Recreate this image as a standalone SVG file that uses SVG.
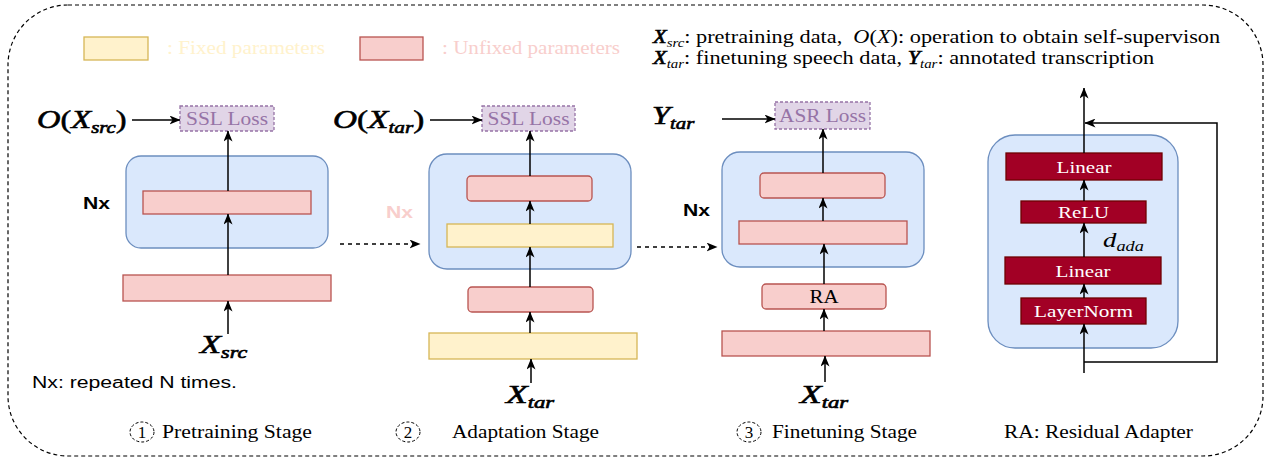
<svg xmlns="http://www.w3.org/2000/svg" width="1271" height="462" viewBox="0 0 1271 462">
<defs>
<marker id="ah" markerWidth="11" markerHeight="9" refX="10.5" refY="4.5" orient="auto" markerUnits="userSpaceOnUse"><path d="M0,0 L11,4.5 L0,9 L3,4.5 Z" fill="#000"/></marker>
<style>
.blue{fill:#dae8fc;stroke:#6c8ebf;stroke-width:1.3}
.pink{fill:#f8cecc;stroke:#b85450;stroke-width:1.3}
.yel{fill:#fff2cc;stroke:#d6b656;stroke-width:1.3}
.loss{fill:#e1d5e7;stroke:#9673a6;stroke-width:1.3;stroke-dasharray:3 2}
.dark{fill:#a20025;stroke:#6f0000;stroke-width:1.3}
.serif{font-family:"Liberation Serif","Times New Roman",serif}
.sans{font-family:"Liberation Sans",Arial,sans-serif}
.t18{font-size:18px}
.losst{fill:#9673a6;font-size:18px;text-anchor:middle}
.wt{fill:#fff;font-size:17px;text-anchor:middle}
.bi{font-style:italic;stroke:#000;stroke-width:0.6}
.it{font-style:italic}
.ln{stroke:#000;stroke-width:1.5;fill:none}
.arr{marker-end:url(#ah)}
.dsh{stroke-dasharray:4 4}
.circ{fill:none;stroke:#000;stroke-width:1;stroke-dasharray:3 2}
.nx{font-size:16px;font-weight:bold}
.pre{white-space:pre}
.up{stroke:#000;stroke-width:0.5}
</style>
</defs>
<rect width="1271" height="462" fill="#fff"/>
<rect id="frame" x="8" y="5" width="1255" height="451" rx="60" fill="none" stroke="#000" stroke-width="1.2" stroke-dasharray="4 3"/>

<g id="legend">
<rect class="yel" x="84" y="37" width="64" height="23"/>
<text class="serif t18" x="167" y="54" fill="#fff2cc" textLength="158" lengthAdjust="spacingAndGlyphs">: Fixed parameters</text>
<rect class="pink" x="360" y="37" width="63" height="23"/>
<text class="serif t18" x="442" y="54" fill="#f8cecc" textLength="178" lengthAdjust="spacingAndGlyphs">: Unfixed parameters</text>
</g>

<g id="notes" class="serif">
<text class="t18 pre" transform="translate(653,43) scale(1.24,1)"><tspan class="bi" stroke-width="0.4">X</tspan><tspan class="it" font-size="12" dy="4">src</tspan><tspan dy="-4">: pretraining data,  </tspan><tspan class="it">O</tspan>(<tspan class="it">X</tspan>): operation to obtain self-supervison</text>
<text class="t18 pre" transform="translate(653,64) scale(1.24,1)"><tspan class="bi" stroke-width="0.4">X</tspan><tspan class="it" font-size="12" dy="4">tar</tspan><tspan dy="-4">: finetuning speech data, </tspan><tspan class="bi" stroke-width="0.4">Y</tspan><tspan class="it" font-size="12" dy="4">tar</tspan><tspan dy="-4">: annotated transcription</tspan></text>
<text class="sans" x="32" y="388" font-size="16" textLength="205" lengthAdjust="spacingAndGlyphs">Nx: repeated N times.</text>
<text class="t18" x="1004" y="438" textLength="189" lengthAdjust="spacingAndGlyphs">RA: Residual Adapter</text>
</g>

<g id="stage1">
<rect class="loss" x="180" y="106" width="94" height="25"/>
<text class="serif losst" x="227" y="124.5" textLength="82" lengthAdjust="spacingAndGlyphs">SSL Loss</text>
<text class="serif" font-size="25" transform="translate(37,128) scale(1.3,1)"><tspan class="bi">O</tspan><tspan class="up">(</tspan><tspan class="bi">X</tspan><tspan class="bi" stroke-width="0.4" font-size="16" dy="5">src</tspan><tspan class="up" dy="-5">)</tspan></text>
<rect class="blue" x="126" y="156" width="202" height="92" rx="15"/>
<rect class="pink" x="143" y="191" width="168" height="23"/>
<text class="sans nx" x="83" y="209" textLength="27" lengthAdjust="spacingAndGlyphs">Nx</text>
<rect class="pink" x="123" y="275" width="208" height="26"/>
<text class="serif" font-size="25" transform="translate(200,353) scale(1.38,1)"><tspan class="bi">X</tspan><tspan class="bi" stroke-width="0.4" font-size="16" dy="5">src</tspan></text>
<ellipse class="circ" cx="142" cy="432" rx="12" ry="10"/>
<text class="serif" x="142" y="438" font-size="17" text-anchor="middle">1</text>
<text class="t18 serif" x="162" y="438" textLength="150" lengthAdjust="spacingAndGlyphs">Pretraining Stage</text>
</g>

<g id="stage2">
<rect class="loss" x="482" y="106" width="93" height="25"/>
<text class="serif losst" x="528.5" y="124.5" textLength="82" lengthAdjust="spacingAndGlyphs">SSL Loss</text>
<text class="serif" font-size="25" transform="translate(333,128) scale(1.33,1)"><tspan class="bi">O</tspan><tspan class="up">(</tspan><tspan class="bi">X</tspan><tspan class="bi" stroke-width="0.4" font-size="16" dy="5">tar</tspan><tspan class="up" dy="-5">)</tspan></text>
<text class="sans nx" x="386" y="218" fill="#f8cecc" textLength="27" lengthAdjust="spacingAndGlyphs">Nx</text>
<rect class="blue" x="429" y="154" width="202" height="115" rx="18"/>
<rect class="pink" x="467" y="176" width="125" height="25" rx="4"/>
<rect class="yel" x="447" y="224" width="166" height="23"/>
<rect class="pink" x="468" y="287" width="125" height="25" rx="4"/>
<rect class="yel" x="429" y="333" width="208" height="26"/>
<text class="serif" font-size="25" transform="translate(506,403) scale(1.42,1)"><tspan class="bi">X</tspan><tspan class="bi" stroke-width="0.4" font-size="16" dy="5">tar</tspan></text>
<ellipse class="circ" cx="408" cy="432" rx="12" ry="10"/>
<text class="serif" x="408" y="438" font-size="17" text-anchor="middle">2</text>
<text class="t18 serif" x="452" y="438" textLength="147" lengthAdjust="spacingAndGlyphs">Adaptation Stage</text>
</g>

<g id="stage3">
<rect class="loss" x="775" y="102" width="95" height="27"/>
<text class="serif losst" x="822.5" y="122" textLength="87" lengthAdjust="spacingAndGlyphs">ASR Loss</text>
<text class="serif" font-size="25" transform="translate(652,124) scale(1.3,1)"><tspan class="bi">Y</tspan><tspan class="bi" stroke-width="0.4" font-size="16" dy="5">tar</tspan></text>
<text class="sans nx" x="683" y="216" textLength="27" lengthAdjust="spacingAndGlyphs">Nx</text>
<rect class="blue" x="722" y="152" width="202" height="115" rx="18"/>
<rect class="pink" x="760" y="173" width="125" height="25" rx="4"/>
<rect class="pink" x="739" y="221" width="168" height="23"/>
<rect class="pink" x="762" y="284" width="124" height="25" rx="4"/>
<text class="serif" x="824" y="302.5" font-size="18" text-anchor="middle" textLength="29" lengthAdjust="spacingAndGlyphs">RA</text>
<rect class="pink" x="722" y="331" width="208" height="25"/>
<text class="serif" font-size="25" transform="translate(800,403) scale(1.42,1)"><tspan class="bi">X</tspan><tspan class="bi" stroke-width="0.4" font-size="16" dy="5">tar</tspan></text>
<ellipse class="circ" cx="749" cy="432" rx="12" ry="10"/>
<text class="serif" x="749" y="438" font-size="17" text-anchor="middle">3</text>
<text class="t18 serif" x="772" y="438" textLength="145" lengthAdjust="spacingAndGlyphs">Finetuning Stage</text>
</g>

<g id="adapter">
<rect class="blue" x="988" y="135" width="190" height="213" rx="27"/>
<rect class="dark" x="1006" y="153" width="156" height="27"/>
<text class="serif wt" x="1084" y="172.5" textLength="55" lengthAdjust="spacingAndGlyphs">Linear</text>
<rect class="dark" x="1021" y="201" width="125" height="22"/>
<text class="serif wt" x="1083.5" y="218" textLength="51" lengthAdjust="spacingAndGlyphs">ReLU</text>
<text class="serif" font-size="22" transform="translate(1103,247) scale(1.22,1)"><tspan class="it">d</tspan><tspan class="it" font-size="15" dy="4">ada</tspan></text>
<rect class="dark" x="1005" y="257" width="156" height="27"/>
<text class="serif wt" x="1083" y="276.5" textLength="55" lengthAdjust="spacingAndGlyphs">Linear</text>
<rect class="dark" x="1021" y="298" width="125" height="26"/>
<text class="serif wt" x="1083.5" y="317" textLength="99" lengthAdjust="spacingAndGlyphs">LayerNorm</text>
</g>

<g id="connectors">
<path class="ln arr" d="M132,120 H180"/>
<path class="ln arr" d="M228,334 V301"/>
<path class="ln arr" d="M228,275 V214"/>
<path class="ln arr" d="M228,191 V131"/>
<path class="ln arr dsh" d="M340,244 H420"/>
<path class="ln arr" d="M430,120 H482"/>
<path class="ln arr" d="M531,383 V359"/>
<path class="ln arr" d="M530,333 V312"/>
<path class="ln arr" d="M530,287 V247"/>
<path class="ln arr" d="M530,224 V201"/>
<path class="ln arr" d="M530,176 V131"/>
<path class="ln arr dsh" d="M637,247 H717"/>
<path class="ln arr" d="M722,119 H775"/>
<path class="ln arr" d="M825,382 V356"/>
<path class="ln arr" d="M824,331 V309"/>
<path class="ln arr" d="M824,284 V244"/>
<path class="ln arr" d="M823,221 V198"/>
<path class="ln arr" d="M823,173 V129"/>
<path class="ln arr" d="M1084,373 V324"/>
<path class="ln arr" d="M1084,298 V284"/>
<path class="ln arr" d="M1084,257 V223"/>
<path class="ln arr" d="M1084,201 V180"/>
<path class="ln arr" d="M1084,153 V88"/>
<path class="ln arr" d="M1084,362 H1217 V123 H1085"/>
</g>
</svg>
